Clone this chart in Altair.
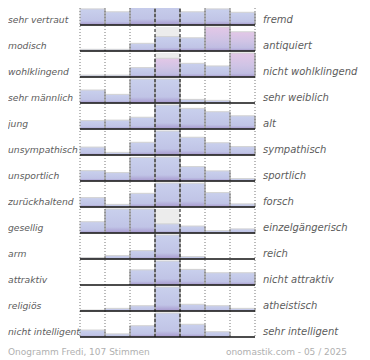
import altair as alt
import pandas as pd

left_labels = ["sehr vertraut", "modisch", "wohlklingend", "sehr männlich", "jung",
               "unsympathisch", "unsportlich", "zurückhaltend", "gesellig", "arm",
               "attraktiv", "religiös", "nicht intelligent"]
right_labels = ["fremd", "antiquiert", "nicht wohlklingend", "sehr weiblich", "alt",
                "sympathisch", "sportlich", "forsch", "einzelgängerisch", "reich",
                "nicht attraktiv", "atheistisch", "sehr intelligent"]
# votes per step of the 7-step scale, as % of the most frequent step of each row
votes = [
    [67, 55, 100, 100, 55, 67, 53],
    [7, 7, 32, 60, 55, 100, 80],
    [8, 8, 39, 78, 57, 46, 100],
    [54, 36, 100, 100, 15, 11, 0],
    [35, 37, 49, 100, 86, 72, 55],
    [33, 11, 53, 100, 74, 51, 35],
    [43, 35, 98, 100, 60, 42, 10],
    [39, 11, 57, 100, 99, 60, 13],
    [47, 100, 100, 38, 29, 10, 17],
    [6, 14, 35, 100, 10, 0, 0],
    [0, 0, 63, 100, 65, 51, 51],
    [4, 11, 22, 100, 28, 22, 11],
    [29, 13, 47, 100, 53, 22, 0],
]
footer_left = "Onogramm Fredi, 107 Stimmen"
footer_right = "onomastik.com - 05 / 2025"

FULL = 24 / 26  # full bar height in row units

# ---- tables built from the arrays
bar_rows = []
edge_rows = []
for r, vals in enumerate(votes):
    m = max(vals)
    tot = sum(vals)
    mean = sum((k + 1) * v for k, v in enumerate(vals)) / tot
    for k, v in enumerate(vals):
        if v > 0:
            bar_rows.append({"row": r, "x0": k, "x1": k + 1, "v": v,
                             "top": r - FULL * v / m,
                             "pink": bool(mean > 5 and v >= 0.75 * m)})
    for k in range(1, 8):
        h = max(vals[k - 1], vals[k] if k < 7 else 0)
        if h > 0:
            edge_rows.append({"row": r, "k": k, "top": r - FULL * h / m})
bars = pd.DataFrame(bar_rows)
edges = pd.DataFrame(edge_rows)
rows = pd.DataFrame({"row": list(range(len(left_labels))),
                     "left": left_labels, "right": right_labels})
rows["top"] = rows["row"] - FULL
rows["ly"] = rows["row"] - 0.19
grid = pd.DataFrame({"k": list(range(8)),
                     "kind": ["dot", "dot", "dot", "dash", "dash", "dot", "dot", "dot"]})
grid["y0"] = -1.0
grid["y1"] = 12.04
foot = pd.DataFrame({"a": [footer_left], "b": [footer_right]})

X = alt.Scale(domain=[0, 7], range=[72, 247])
Y = alt.Scale(domain=[-1, 12], range=[-9, 329])

blue = alt.Gradient(gradient="linear", x1=0, x2=0, y1=0, y2=1, stops=[
    alt.GradientStop(offset=0, color="#c9d0ed"),
    alt.GradientStop(offset=0.75, color="#c0c4e6"),
    alt.GradientStop(offset=1, color="#a697cd")])
pink = alt.Gradient(gradient="linear", x1=0, x2=0, y1=0, y2=1, stops=[
    alt.GradientStop(offset=0, color="#e3c7e7"),
    alt.GradientStop(offset=0.5, color="#d0c4e5"),
    alt.GradientStop(offset=0.85, color="#c0bde2"),
    alt.GradientStop(offset=1, color="#a697cd")])

center_bg = alt.Chart(rows).mark_rect(color="#ececec").encode(
    x=alt.X("c0:Q", scale=X, axis=None), x2="c1:Q",
    y=alt.Y("top:Q", scale=Y, axis=None), y2="row:Q",
).transform_calculate(c0="3", c1="4")

def bar_layer(flag, grad):
    return alt.Chart(bars).transform_filter(
        alt.datum.pink == flag
    ).mark_bar(color=grad, stroke="#d2d2d2", strokeWidth=1).encode(
        x=alt.X("x0:Q", scale=X, axis=None), x2="x1:Q",
        y=alt.Y("top:Q", scale=Y, axis=None), y2="row:Q")

edge_layer = alt.Chart(edges).mark_rule(color="#8c8c8c", strokeWidth=1).encode(
    x=alt.X("k:Q", scale=X, axis=None),
    y=alt.Y("top:Q", scale=Y, axis=None), y2="row:Q")

dots = alt.Chart(grid).transform_filter(alt.datum.kind == "dot").mark_rule(
    color="#777777", strokeWidth=1, strokeDash=[1, 2]).encode(
    x=alt.X("k:Q", scale=X, axis=None),
    y=alt.Y("y0:Q", scale=Y, axis=None), y2="y1:Q")
dashes = alt.Chart(grid).transform_filter(alt.datum.kind == "dash").mark_rule(
    color="#111111", strokeWidth=1, strokeDash=[3, 2]).encode(
    x=alt.X("k:Q", scale=X, axis=None),
    y=alt.Y("y0:Q", scale=Y, axis=None), y2="y1:Q")

baselines = alt.Chart(rows).mark_rule(color="#111111", strokeWidth=1.6).encode(
    x=alt.X("b0:Q", scale=X, axis=None), x2="b1:Q",
    y=alt.Y("row:Q", scale=Y, axis=None),
).transform_calculate(b0="0", b1="7")

ltext = alt.Chart(rows).mark_text(
    align="left", baseline="middle", font="DejaVu Sans", fontStyle="italic",
    fontSize=9.2, color="#5c5c5c").encode(
    x=alt.value(0), y=alt.Y("ly:Q", scale=Y, axis=None), text="left:N")
rtext = alt.Chart(rows).mark_text(
    align="left", baseline="middle", font="DejaVu Sans", fontStyle="italic",
    fontSize=10, color="#5c5c5c").encode(
    x=alt.value(255), y=alt.Y("ly:Q", scale=Y, axis=None), text="right:N")

fl = alt.Chart(foot).mark_text(
    align="left", baseline="middle", font="DejaVu Sans", fontSize=9,
    color="#b0b0b0").encode(x=alt.value(0), y=alt.value(344), text="a:N")
fr = alt.Chart(foot).mark_text(
    align="right", baseline="middle", font="DejaVu Sans", fontSize=9,
    color="#b0b0b0").encode(x=alt.value(339), y=alt.value(344), text="b:N")

chart = alt.layer(
    center_bg, bar_layer(False, blue), bar_layer(True, pink), edge_layer,
    dots, dashes, baselines, ltext, rtext, fl, fr
).properties(
    width=354, height=352,
    autosize=alt.AutoSizeParams(type="none"), padding=0,
).configure_view(stroke=None)

chart.save("out.html", embed_options={"renderer": "svg", "actions": False})
